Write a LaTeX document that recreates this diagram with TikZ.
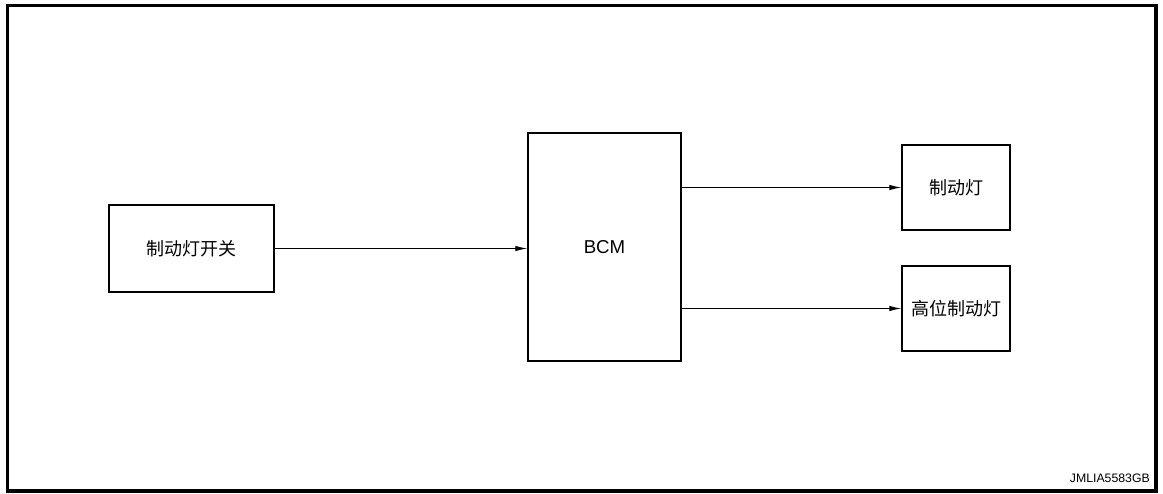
\documentclass[tikz,border=0pt]{standalone}
\usepackage{fontspec}
\setmainfont{Liberation Sans}
\newfontfamily\cjk{Noto Sans CJK SC}
\usetikzlibrary{arrows.meta}
\begin{document}
\begin{tikzpicture}[x=0.75pt,y=-0.75pt,
  blk/.style={draw, line width=0.9pt, inner sep=0pt, font=\cjk\fontsize{13.5}{16}\selectfont},
  conn/.style={line width=0.75pt, -{Latex[length=9pt,width=4pt]}}]
\useasboundingbox (0,0) rectangle (1163,493);
\draw[line width=2.3pt] (7.5,5.5) rectangle (1156,491);
\node[blk, minimum width=165*0.75pt, minimum height=87*0.75pt] (sw) at (191.5,248.5) {制动灯开关};
\node[blk, minimum width=153*0.75pt, minimum height=228*0.75pt, font=\fontsize{14}{16}\selectfont] (bcm) at (604.5,247) {BCM};
\node[blk, minimum width=108*0.75pt, minimum height=85*0.75pt] (sl) at (956,187.5) {制动灯};
\node[blk, minimum width=108*0.75pt, minimum height=85*0.75pt] (hsl) at (956,308.5) {高位制动灯};
\draw[conn] (sw.east) -- (sw.east -| bcm.west);
\draw[conn] (bcm.east |- sl.west) -- (sl.west);
\draw[conn] (bcm.east |- hsl.west) -- (hsl.west);
\node[anchor=base east, font=\fontsize{9.2}{11}\selectfont, inner sep=0pt] (code) at (1150,482) {JMLIA5583GB};
\end{tikzpicture}
\end{document}
